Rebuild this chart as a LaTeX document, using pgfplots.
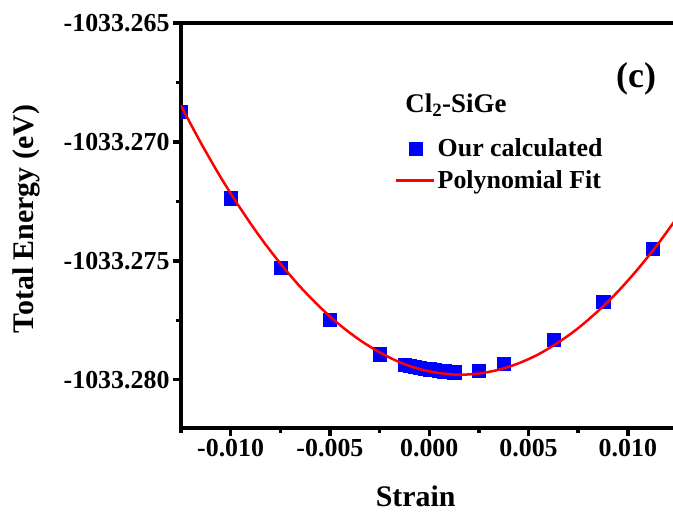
\documentclass[border=0pt]{standalone}
\usepackage{fontspec}
\setmainfont{Liberation Serif}
\usepackage{pgfplots}
\usepackage{pgfplotstable}
\pgfplotsset{compat=1.18}

% Total energies are read as text and turned into offsets from -1033.26500 eV
% (in units of 1e-5 eV), so the tiny spread is not lost in the fpu.
\def\EnergyOffset#1.#2.#3\relax{%
  \ifx\relax#2\relax \edef\pgfmathresult{#1}%
  \else \edef\pgfmathresult{\the\numexpr 26500-1#2+100000\relax}\fi}
\def\EnergyTrafo#1{\edef\energytmp{#1}\expandafter\EnergyOffset\energytmp..\relax}

\pgfplotsset{
  y coord trafo/.code={\EnergyTrafo{#1}},
  y coord inv trafo/.code={\def\pgfmathresult{#1}},
  calc legend/.style={legend image code/.code={\draw[##1] plot coordinates {(19bp,0bp)};}},
  fit legend/.style={legend image code/.code={\draw[##1] (0bp,0bp) -- (38bp,0bp);}},
}

% strain, total energy (eV)
\pgfplotstableread{
strain energy
-0.01250 -1033.26872
-0.01000 -1033.27236
-0.00750 -1033.27528
-0.00500 -1033.27748
-0.00250 -1033.27892
-0.00125 -1033.27935
-0.00100 -1033.27940
-0.00075 -1033.27944
-0.00050 -1033.27948
-0.00025 -1033.27952
0.00000 -1033.27955
0.00025 -1033.27958
0.00050 -1033.27961
0.00075 -1033.27964
0.00100 -1033.27966
0.00125 -1033.27968
0.00250 -1033.27961
0.00375 -1033.27933
0.00625 -1033.27832
0.00875 -1033.27671
0.01125 -1033.27450
}\calcdata

% polynomial fit
\pgfplotstableread{
strain energy
-0.0125 -1033.26848
-0.0115 -1033.27004
-0.0105 -1033.27149
-0.0095 -1033.27281
-0.0085 -1033.27402
-0.0075 -1033.27511
-0.0065 -1033.27609
-0.0055 -1033.27695
-0.0045 -1033.27770
-0.0035 -1033.27833
-0.0025 -1033.27885
-0.0015 -1033.27926
-0.0005 -1033.27955
0.0005 -1033.27972
0.0015 -1033.27979
0.0025 -1033.27974
0.0035 -1033.27958
0.0045 -1033.27931
0.0055 -1033.27893
0.0065 -1033.27843
0.0075 -1033.27783
0.0085 -1033.27711
0.0095 -1033.27629
0.0105 -1033.27535
0.0115 -1033.27431
0.0125 -1033.27316
}\fitdata

\begin{document}
\begin{tikzpicture}
\useasboundingbox (-181bp,-86bp) rectangle (492bp,428bp);
\begin{axis}[
  scale only axis,
  width=492bp, height=405bp,
  xmin=-0.0125, xmax=0.012273,
  ymin=-1033.28203, ymax=-1033.26500,
  axis y line*=left,
  xtick pos=left,
  tick align=outside,
  major tick length=8bp, minor tick length=4.5bp,
  tick style={black, line width=3.5bp},
  axis line style={black, line width=4.5bp, line cap=rect},
  scaled x ticks=false, scaled y ticks=false,
  xtick={-0.01,-0.005,0,0.005,0.01},
  xticklabels={-0.010,-0.005,0.000,0.005,0.010},
  minor xtick={-0.0125,-0.0075,-0.0025,0.0025,0.0075},
  ytick={-1033.28000,-1033.27500,-1033.27000,-1033.26500},
  yticklabels={-1033.280,-1033.275,-1033.270,-1033.265},
  minor ytick={-1033.27750,-1033.27250,-1033.26750},
  tick label style={font=\fontsize{26}{31}\selectfont\bfseries},
  label style={font=\fontsize{30}{36}\selectfont\bfseries},
  xlabel={Strain},
  ylabel={Total Energy (eV)},
  xlabel style={at={(axis description cs:0.477,-0.1926)}, anchor=base},
  ylabel style={at={(axis description cs:-0.3008,0.516)}, anchor=base},
  clip marker paths=true,
  legend style={at={(axis description cs:0.435,0.719)}, anchor=north west,
    draw=none, fill=none, inner sep=0pt, row sep=8.5bp,
    font=\fontsize{26}{31}\selectfont\bfseries,
    cells={anchor=west}},
]
\addplot[only marks, mark=square*, mark size=6.6bp,
  mark options={fill=blue, draw=blue, line width=0.2bp}, calc legend]
  table[x=strain, y=energy] {\calcdata};
\addlegendentry{Our calculated}
\addplot[red, line width=2.5bp, smooth, fit legend]
  table[x=strain, y=energy] {\fitdata};
\addlegendentry{Polynomial Fit}

\node[anchor=base west, font=\fontsize{27}{32}\selectfont\bfseries]
  at (axis description cs:0.449,0.778) {Cl\textsubscript{2}-SiGe};
\node[anchor=base, font=\fontsize{36}{42}\selectfont\bfseries]
  at (axis description cs:0.925,0.840) {(c)};
\end{axis}
\end{tikzpicture}
\end{document}
